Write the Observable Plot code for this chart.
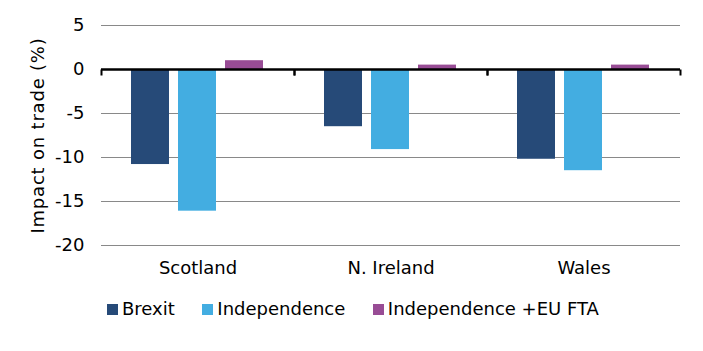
<!DOCTYPE html>
<html><head><meta charset="utf-8">
<script src="https://cdn.jsdelivr.net/npm/d3@7"></script>
<script src="https://cdn.jsdelivr.net/npm/@observablehq/plot@0.6"></script>
<style>
body{margin:0;background:#fff;font-family:"DejaVu Sans",Verdana,sans-serif;}
#legend{display:flex;align-items:center;padding-left:107px;padding-top:14px;height:20px;font-size:18px;line-height:20px;color:#000;}
#legend .item{display:flex;align-items:center;margin-right:27.5px;}
#legend .sw{width:11px;height:11px;margin-right:4px;display:inline-block;}
g[aria-label="y-axis label"] text{letter-spacing:0.8px;}
</style></head><body><div id="chart"></div>
<script>
const regions = ["Scotland", "N. Ireland", "Wales"];
const scenarios = ["Brexit", "Independence", "Independence +EU FTA"];
const brexit = [-10.8, -6.5, -10.2];
const independence = [-16.1, -9.1, -11.5];
const independenceFta = [1.0, 0.5, 0.5];
const colors = ["#264a78", "#43ade1", "#984c95"];
const yTicks = [5, 0, -5, -10, -15, -20];

const seriesValues = [brexit, independence, independenceFta];
const rows = regions.flatMap((r, i) => scenarios.map((s, j) => ({region: r, scenario: s, value: seriesValues[j][i]})));

const tickSymbol = {draw(context) { context.moveTo(0, 0); context.lineTo(0, 6); }};

const chart = Plot.plot({
  width: 703, height: 285,
  marginLeft: 101, marginRight: 23, marginTop: 25, marginBottom: 40,
  style: {fontFamily: "DejaVu Sans, Verdana, sans-serif", fontSize: "18px", color: "#000", background: "#fff", overflow: "visible"},
  fx: {domain: regions, padding: 0, label: null, tickSize: 0, tickPadding: 16},
  x: {domain: scenarios, paddingInner: 0.19, paddingOuter: 0.635, axis: null},
  y: {domain: [-20, 5], ticks: yTicks, tickSize: 0, tickPadding: 17, label: "Impact on trade (%)", labelAnchor: "center", labelOffset: 70, labelArrow: "none", tickFormat: d => String(d)},
  color: {domain: scenarios, range: colors},
  marks: [
    Plot.gridY(yTicks, {stroke: "#898989", strokeOpacity: 1, strokeWidth: 1}),
    Plot.barY(rows, {fx: "region", x: "scenario", y: "value", fill: "scenario"}),
    Plot.ruleY([0], {stroke: "#000", strokeWidth: 2.5}),
    Plot.dot([0], {y: d => d, frameAnchor: "left", symbol: tickSymbol, stroke: "#000", strokeWidth: 2, fill: "none"}),
    Plot.dot([0], {y: d => d, frameAnchor: "right", symbol: tickSymbol, stroke: "#000", strokeWidth: 2, fill: "none"})
  ]
});
document.getElementById("chart").appendChild(chart);

const legend = document.createElement("div");
legend.id = "legend";
scenarios.forEach((s, i) => {
  const item = document.createElement("span");
  item.className = "item";
  const sw = document.createElement("span");
  sw.className = "sw";
  sw.style.background = colors[i];
  item.appendChild(sw);
  item.appendChild(document.createTextNode(s));
  legend.appendChild(item);
});
document.body.appendChild(legend);
</script></body></html>
